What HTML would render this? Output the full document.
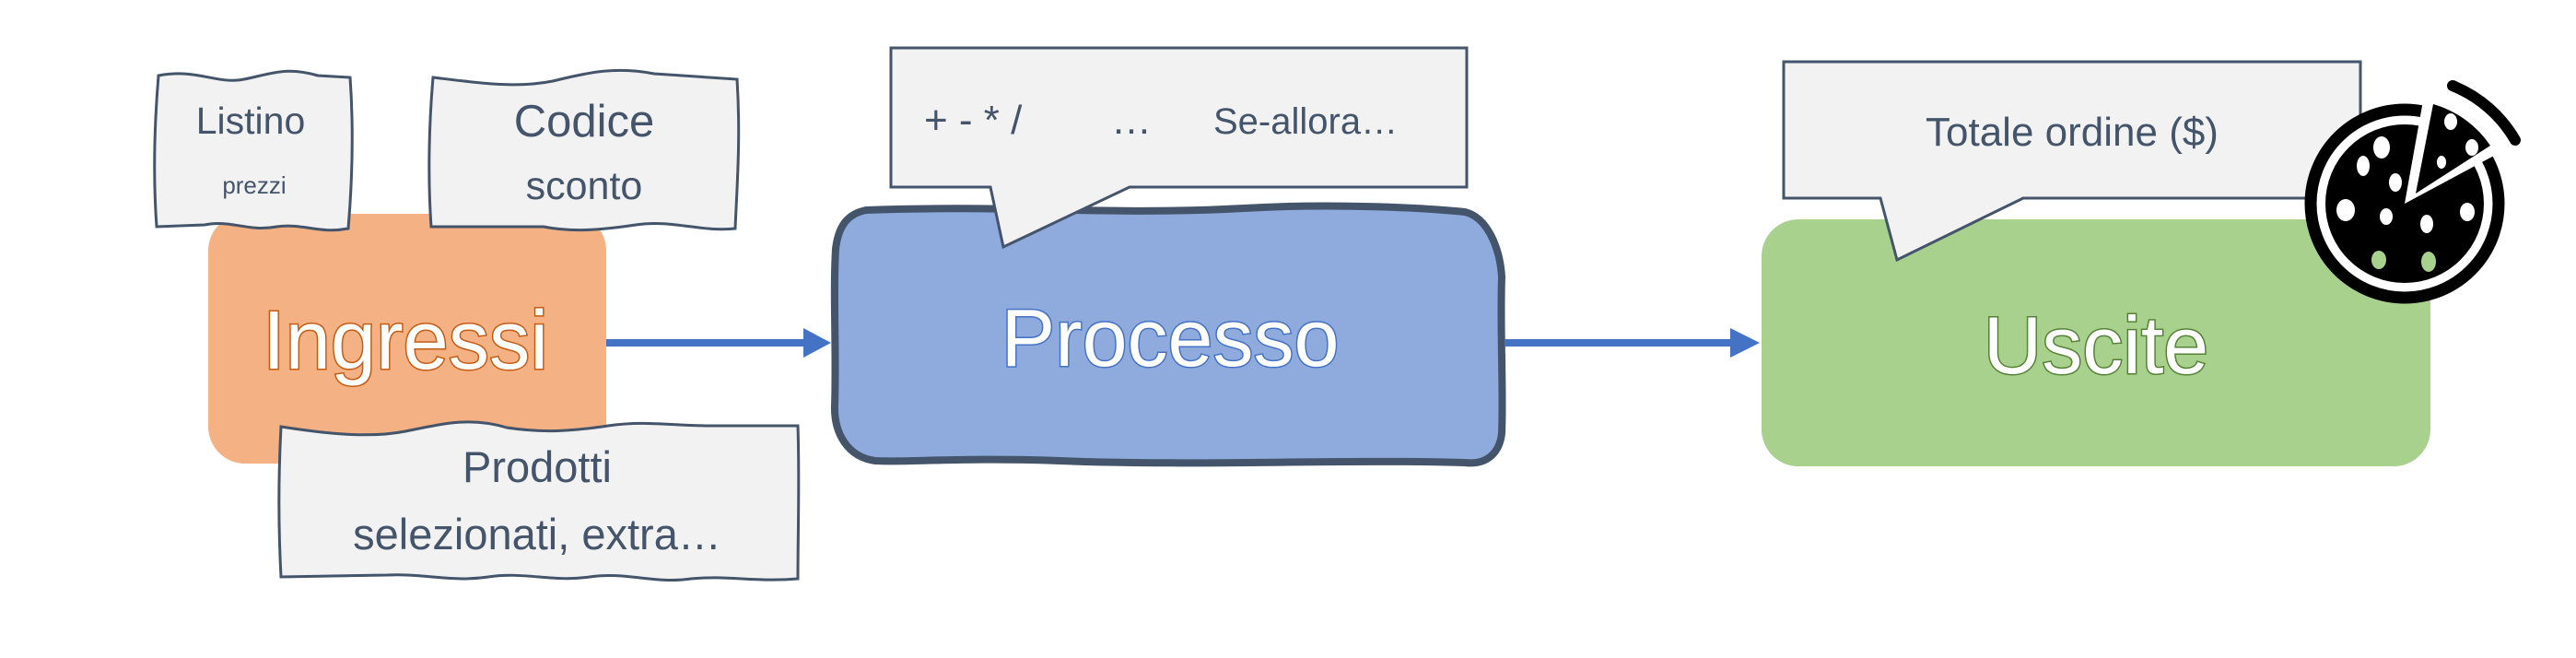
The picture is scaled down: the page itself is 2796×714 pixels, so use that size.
<!DOCTYPE html>
<html><head><meta charset="utf-8"><style>
html,body{margin:0;padding:0;background:#fff;}
svg{display:block;}
text{font-family:"Liberation Sans",sans-serif;}
</style></head><body>
<svg width="2796" height="714" viewBox="0 0 2796 714" xmlns="http://www.w3.org/2000/svg">
<rect x="226" y="232" width="432" height="271" rx="40" fill="#f4b183"/>
<path d="M172,82 C215,74 235,92 265,86 C295,80 310,72 345,82 L380,84 C384,140 382,200 378,248 C345,254 330,242 300,246 C270,252 250,238 222,244 L170,246 C166,190 168,130 172,82 Z" fill="#f2f2f2" stroke="#44546a" stroke-width="3"/>
<text x="272" y="145" font-size="41" fill="#44546a" text-anchor="middle">Listino</text>
<text x="276" y="210" font-size="26" fill="#44546a" text-anchor="middle">prezzi</text>
<path d="M470,84 C520,90 560,96 600,88 C640,78 670,72 710,80 L800,86 C804,150 800,200 798,248 C760,252 730,238 690,244 C650,250 620,252 590,246 L468,246 C464,190 466,130 470,84 Z" fill="#f2f2f2" stroke="#44546a" stroke-width="3"/>
<text x="634" y="148" font-size="49" fill="#44546a" text-anchor="middle">Codice</text>
<text x="634" y="216" font-size="43" fill="#44546a" text-anchor="middle">sconto</text>
<text x="440" y="400" font-size="90" fill="#fff" stroke="#c55a11" stroke-width="3" paint-order="stroke" text-anchor="middle" textLength="310" lengthAdjust="spacingAndGlyphs">Ingressi</text>
<path d="M305,463 C350,470 400,476 440,468 C480,460 510,452 550,464 C590,470 620,468 660,462 C700,456 730,462 770,462 L866,462 C868,520 866,580 866,628 C820,632 790,624 750,628 C710,634 680,620 640,626 C600,632 570,620 530,626 C490,632 460,622 420,624 L305,626 C302,570 302,520 305,463 Z" fill="#f2f2f2" stroke="#44546a" stroke-width="3"/>
<text x="583" y="523" font-size="47" fill="#44546a" text-anchor="middle">Prodotti</text>
<text x="583" y="596" font-size="47" fill="#44546a" text-anchor="middle">selezionati, extra…</text>
<line x1="658" y1="372" x2="880" y2="372" stroke="#4472c4" stroke-width="8"/>
<polygon points="872,356 902,372 872,388" fill="#4472c4"/>
<path d="M940,228 C1100,222 1200,234 1350,226 C1450,220 1550,226 1590,230 C1615,236 1628,270 1630,300 C1628,360 1632,420 1630,470 C1628,490 1615,505 1590,502 C1450,498 1300,506 1150,500 C1050,496 980,502 950,500 C920,496 905,470 906,440 C908,380 904,320 907,270 C910,245 920,232 940,228 Z" fill="#8faadc" stroke="#44546a" stroke-width="8"/>
<text x="1270" y="397" font-size="88" fill="#fff" stroke="#4472c4" stroke-width="3" paint-order="stroke" text-anchor="middle">Processo</text>
<path d="M967,52 L1592,52 L1592,203 L1226,203 L1089,268 L1075,203 L967,203 Z" fill="#f2f2f2" stroke="#44546a" stroke-width="3"/>
<text x="1003" y="145" font-size="44" fill="#44546a">+ - * /</text>
<text x="1206" y="145" font-size="44" fill="#44546a">…</text>
<text x="1317" y="145" font-size="40" fill="#44546a">Se-allora…</text>
<line x1="1633" y1="372" x2="1885" y2="372" stroke="#4472c4" stroke-width="8"/>
<polygon points="1878,356 1910,372 1878,388" fill="#4472c4"/>
<rect x="1912" y="238" width="726" height="268" rx="40" fill="#a9d18e"/>
<text x="2275" y="405" font-size="88" fill="#fff" stroke="#548235" stroke-width="3" paint-order="stroke" text-anchor="middle">Uscite</text>
<path d="M1936,67 L2562,67 L2562,215 L2196,215 L2059,282 L2041,215 L1936,215 Z" fill="#f2f2f2" stroke="#44546a" stroke-width="3"/>
<text x="2249" y="158" font-size="44" fill="#44546a" text-anchor="middle">Totale ordine ($)</text>
<!-- Pizza icon -->
<g>
<circle cx="2610" cy="221" r="102" fill="#fff" stroke="#000" stroke-width="13"/>
<circle cx="2610" cy="221" r="86" fill="#000"/>
<path d="M2610,221 L2632,98 A125,125 0 0 1 2720,162 Z" fill="#fff"/>
<path d="M2622,210 L2641,113 A112,112 0 0 1 2703,158 Z" fill="#000"/>
<path d="M2662,93 A138,138 0 0 1 2730,152" fill="none" stroke="#000" stroke-width="12" stroke-linecap="round"/>
<g fill="#fff">
<ellipse cx="2585" cy="160" rx="9" ry="12"/>
<ellipse cx="2565" cy="180" rx="7" ry="11"/>
<ellipse cx="2600" cy="198" rx="7" ry="10"/>
<ellipse cx="2546" cy="228" rx="10" ry="12"/>
<ellipse cx="2590" cy="235" rx="7" ry="9"/>
<ellipse cx="2634" cy="243" rx="7" ry="10"/>
<ellipse cx="2678" cy="230" rx="8" ry="10"/>
<ellipse cx="2660" cy="132" rx="7" ry="9"/>
<ellipse cx="2683" cy="160" rx="7" ry="9"/>
<ellipse cx="2650" cy="176" rx="5" ry="7"/>
</g>
<g fill="#a9d18e">
<ellipse cx="2582" cy="282" rx="8" ry="10"/>
<ellipse cx="2636" cy="284" rx="8" ry="11"/>
</g>
</g>
</svg>
</body></html>
